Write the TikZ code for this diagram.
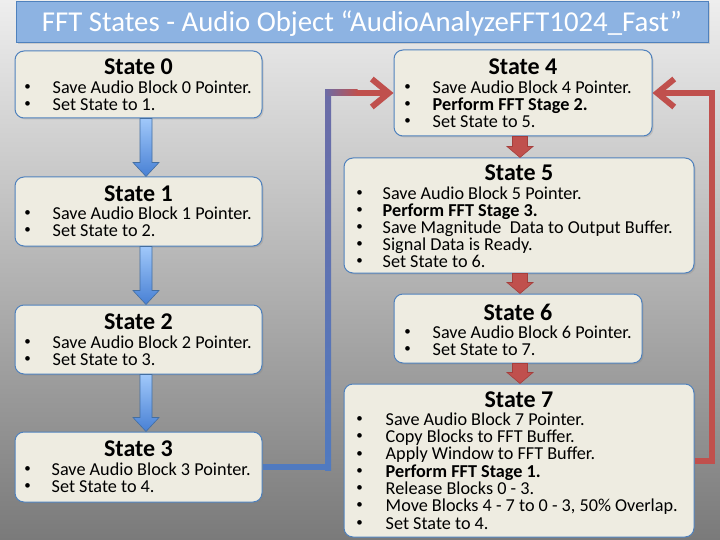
\documentclass[tikz,border=0pt]{standalone}
\usepackage{fontspec}
\setmainfont{Carlito}
\usetikzlibrary{calc,arrows.meta,shadows}
\definecolor{accblue}{RGB}{79,129,189}
\definecolor{accred}{RGB}{192,80,77}
\definecolor{accreddark}{RGB}{165,62,60}
\definecolor{boxfill}{RGB}{238,236,225}
\definecolor{titlefill}{RGB}{141,179,226}
\definecolor{bgtop}{RGB}{238,238,238}
\definecolor{bgbot}{RGB}{122,122,122}
\definecolor{arrtop}{RGB}{160,200,250}
\definecolor{arrbot}{RGB}{72,128,212}
\definecolor{connblue}{RGB}{80,122,192}
\definecolor{connpurple}{RGB}{108,108,166}
\newcommand\blockarr[6]{%
  \path[#1] ($(#2.south -| #4)+(-#5,0)$) -- ($(#2.south -| #4)+(#5,0)$)
    -- ($(#3.north -| #4)+(#5,-#6)$) -- ($(#3.north -| #4)+(13,-#6)$)
    -- (#3.north -| #4) -- ($(#3.north -| #4)+(-13,-#6)$)
    -- ($(#3.north -| #4)+(-#5,-#6)$) -- cycle;}
\newcommand\stcontent[8]{%
  \node[head] (#1h) at ($(#1.north)+(0,#3)$) {#2};
  \foreach \t [count=\i from 0] in {#8}{
    \node[bul] (#1b\i) at ($(#1.north west)+(#5,#4+#7*\i)$) {\textbullet};
    \node[itm] (#1t\i) at ($(#1.north west)+(#6,#4+#7*\i)$) {\t};
  }}
\begin{document}
\begin{tikzpicture}[x=1pt,y=-1pt,
  stbox/.style={draw=accblue, line width=1pt, fill=boxfill, rounded corners=9pt, inner sep=0pt,
    drop shadow={opacity=0.25, shadow xshift=1.5pt, shadow yshift=-1.5pt}},
  titlebox/.style={draw=accblue, line width=1pt, fill=titlefill, inner sep=0pt,
    text=white, font=\fontsize{28.8}{29}\selectfont, text height=18pt, text depth=0pt,
    drop shadow={opacity=0.25, shadow xshift=1.5pt, shadow yshift=-1.5pt}},
  head/.style={font=\fontsize{24}{24}\selectfont\bfseries, inner sep=0pt, text height=15.5pt, text depth=0pt},
  itm/.style={font=\fontsize{18.2}{18}\selectfont, inner sep=0pt, text height=11.6pt, text depth=0pt, anchor=west},
  bul/.style={font=\fontsize{13}{13}\selectfont, inner sep=0pt, anchor=center},
  conn/.style={line width=6pt, line join=miter},
  barb/.style={-{Straight Barb[length=17pt,width=28pt,color=accred]}},
  bluearr/.style={top color=arrtop, bottom color=arrbot, draw=accblue!85!black, line width=0.6pt},
  redarr/.style={fill=accred, draw=accreddark, line width=0.6pt}]
\useasboundingbox (0,0) rectangle (720,540);
\shade[top color=bgtop, bottom color=bgbot] (0,0) rectangle (720,540);

% title
\node[titlebox, minimum width=692pt, minimum height=41pt] (title) at (362,22.5)
  {FFT States - Audio Object “AudioAnalyzeFFT1024\_Fast”};

% boxes
\node[stbox, minimum width=247pt, minimum height=67pt] (s0) at (138.5,84.5) {};
\node[stbox, minimum width=247pt, minimum height=69pt] (s1) at (138.5,211.5) {};
\node[stbox, minimum width=247pt, minimum height=69pt] (s2) at (138.5,339.5) {};
\node[stbox, minimum width=247pt, minimum height=70pt] (s3) at (138.5,467) {};
\node[stbox, minimum width=258pt, minimum height=86pt] (s4) at (523,93) {};
\node[stbox, minimum width=350pt, minimum height=115pt] (s5) at (519,215.5) {};
\node[stbox, minimum width=248pt, minimum height=69pt] (s6) at (518,328.5) {};
\node[stbox, minimum width=350pt, minimum height=153pt] (s7) at (519,460.5) {};

% texts
\stcontent{s0}{State 0}{16}{37}{13}{38}{17}{Save Audio Block 0 Pointer., Set State to 1.}
\stcontent{s1}{State 1}{17}{37.5}{13}{38}{17}{Save Audio Block 1 Pointer., Set State to 2.}
\stcontent{s2}{State 2}{17.5}{38}{13}{38}{17}{Save Audio Block 2 Pointer., Set State to 3.}
\stcontent{s3}{State 3}{17}{38}{13}{37}{17}{Save Audio Block 3 Pointer., Set State to 4.}
\stcontent{s4}{State 4}{17}{38}{14}{39}{17}{Save Audio Block 4 Pointer., \textbf{Perform FFT Stage 2.}, Set State to 5.}
\stcontent{s5}{State 5}{15}{36}{16}{39}{17}{Save Audio Block 5 Pointer., \textbf{Perform FFT Stage 3.}, Save Magnitude~ Data to Output Buffer., Signal Data is Ready., Set State to 6.}
\stcontent{s6}{State 6}{19}{39}{14}{39}{17}{Save Audio Block 6 Pointer., Set State to 7.}
\stcontent{s7}{State 7}{16}{36}{16}{42}{17.3}{Save Audio Block 7 Pointer., Copy Blocks to FFT Buffer., Apply Window to FFT Buffer., \textbf{Perform FFT Stage 1.}, Release Blocks 0 - 3., {Move Blocks 4 - 7 to 0 - 3, 50\% Overlap.}, Set State to 4.}

% down arrows
\coordinate (ax) at (146,0);
\coordinate (rx) at (520,0);
\blockarr{bluearr}{s0}{s1}{ax}{6}{14}
\blockarr{bluearr}{s1}{s2}{ax}{6}{14}
\blockarr{bluearr}{s2}{s3}{ax}{6}{14}
\blockarr{redarr}{s4}{s5}{rx}{7.5}{11}
\blockarr{redarr}{s5}{s6}{rx}{7.5}{11}
\blockarr{redarr}{s6}{s7}{rx}{7.5}{11}

% loop connectors
\coordinate (bx) at (328,0);
\coordinate (ex) at (712,0);
\coordinate (b1) at (s3.east -| bx);
\coordinate (b2) at (s4.west -| bx);
\draw[conn, draw=connblue, barb] (s3.east) -- (b1) -- (b2) -- (s4.west);
\shade[bottom color=connblue, top color=connpurple] ($(b1)+(-3,3)$) rectangle ($(b2)+(3,-3)$);
\shade[left color=connpurple, right color=accred] ($(b2)+(-3,-3)$) rectangle ($(s4.west)+(-36,3)$);
\fill[accred] ($(s4.west)+(-36.2,-3)$) rectangle ($(s4.west)+(-8,3)$);

\coordinate (e1) at (s7.east -| ex);
\coordinate (e2) at (s4.east -| ex);
\draw[conn, draw=accred, barb] (s7.east) -- (e1) -- (e2) -- (s4.east);
\end{tikzpicture}
\end{document}
